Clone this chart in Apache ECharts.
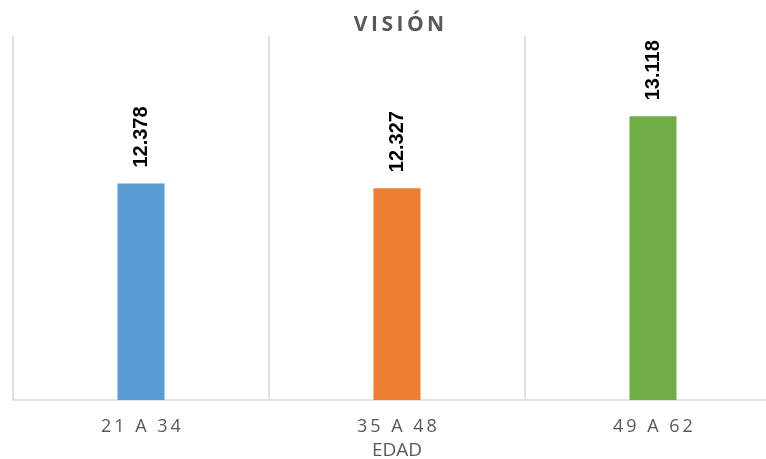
<!DOCTYPE html>
<html>
<head>
<meta charset="utf-8">
<script src="https://cdn.jsdelivr.net/npm/echarts@6/dist/echarts.min.js"></script>
<style>
  html, body { margin: 0; padding: 0; background: #fff; }
  #chart { width: 766px; height: 459px; }
</style>
</head>
<body>
<div id="chart"></div>
<script>
// Age groups and their average "Visión" score
const categories = ['21 A 34', '35 A 48', '49 A 62'];
const values = [12.378, 12.327, 13.118];
const barColors = ['#5B9BD5', '#ED7D31', '#70AD47'];
const titleText = 'VISIÓN';
const axisName = 'EDAD';

// spread characters apart with narrow spaces (letter-spaced look)
const spread = (s, gap) => s.split('').join(gap);

const chart = echarts.init(document.getElementById('chart'), null, { renderer: 'canvas' });

chart.setOption({
  animation: false,
  backgroundColor: '#ffffff',
  title: {
    text: spread(titleText, '\u2009'),
    left: 394,
    top: 10,
    textAlign: 'center',
    textStyle: {
      fontFamily: 'Open Sans',
      fontSize: 21,
      fontWeight: 'bold',
      color: '#595959'
    }
  },
  grid: { left: 13, top: 36, width: 768, height: 364, outerBoundsMode: 'none', containLabel: false },
  xAxis: {
    type: 'category',
    data: categories,
    name: axisName,
    nameLocation: 'middle',
    nameGap: 40,
    nameTextStyle: { fontFamily: 'Open Sans', fontSize: 19, color: '#595959' },
    axisLine: { lineStyle: { color: '#d9d9d9', width: 1.5 } },
    axisTick: { show: false },
    axisLabel: {
      margin: 18,
      fontFamily: 'Open Sans',
      fontSize: 18,
      color: '#595959',
      formatter: v => spread(v, '\u2009')
    },
    splitLine: { show: true, lineStyle: { color: '#d9d9d9', width: 1.5 } }
  },
  yAxis: {
    type: 'value',
    min: 10,
    max: 14,
    show: false,
    splitLine: { show: false }
  },
  series: [{
    type: 'bar',
    barWidth: 47,
    data: values.map((v, i) => ({ value: v, itemStyle: { color: barColors[i] } })),
    label: {
      show: true,
      position: 'top',
      rotate: 90,
      align: 'left',
      verticalAlign: 'middle',
      distance: 16,
      fontFamily: 'Liberation Sans',
      fontWeight: 'bold',
      fontSize: 20,
      color: '#000000',
      formatter: p => p.value.toFixed(3)
    }
  }]
});
</script>
</body>
</html>
